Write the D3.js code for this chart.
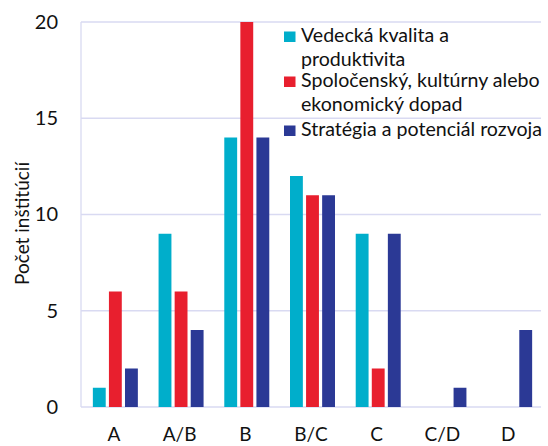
<!DOCTYPE html>
<html>
<head>
<meta charset="utf-8">
<script src="https://cdn.jsdelivr.net/npm/d3@7/dist/d3.min.js"></script>
<style>
  html, body { margin: 0; padding: 0; background: #fff; }
  svg { display: block; font-family: Lato, "Open Sans", sans-serif; }
</style>
</head>
<body>
<svg id="chart" width="548" height="446"></svg>
<script>
// Hodnotenie inštitúcií podľa kritérií
const categories = ["A", "A/B", "B", "B/C", "C", "C/D", "D"];
const seriesNames = [
  "Vedecká kvalita a produktivita",
  "Spoločenský, kultúrny alebo ekonomický dopad",
  "Stratégia a potenciál rozvoja"
];
const vedeckaKvalita = [1, 9, 14, 12, 9, 0, 0];
const spolocenskyDopad = [6, 6, 20, 11, 2, 0, 0];
const strategia = [2, 4, 14, 11, 9, 1, 4];
const yTicks = [0, 5, 10, 15, 20];
const legendLines = [
  ["Vedecká kvalita a", "produktivita"],
  ["Spoločenský, kultúrny alebo", "ekonomický dopad"],
  ["Stratégia a potenciál rozvoja"]
];

const colors = ["#00AECB", "#E81F2E", "#2B3995"];
const series = [vedeckaKvalita, spolocenskyDopad, strategia];

const svg = d3.select("#chart");
const margin = { left: 81, right: 7, top: 22, bottom: 39 };
const W = 548, H = 446;

const x = d3.scaleBand().domain(categories).range([margin.left, W - margin.right]).paddingInner(0).paddingOuter(0);
const x1 = d3.scaleBand().domain(d3.range(series.length)).range([0, 45]).paddingInner(0.2).paddingOuter(0);
const y = d3.scaleLinear().domain([0, 20]).range([H - margin.bottom, margin.top]);

const gridColor = "#D9DAF2";

// horizontal gridlines
svg.append("g").selectAll("line").data(yTicks).join("line")
  .attr("x1", margin.left).attr("x2", W - margin.right)
  .attr("y1", d => y(d)).attr("y2", d => y(d))
  .attr("stroke", gridColor).attr("stroke-width", 1.3);

// left axis line
svg.append("line")
  .attr("x1", margin.left).attr("x2", margin.left)
  .attr("y1", y(20)).attr("y2", y(0))
  .attr("stroke", gridColor).attr("stroke-width", 1.3);

// y tick labels
const yAxis = d3.axisLeft(y).tickValues(yTicks).tickSize(0).tickPadding(23);
const gy = svg.append("g").attr("transform", `translate(${margin.left},0)`).call(yAxis);
gy.select(".domain").remove();
gy.selectAll("text").attr("font-size", 20).attr("fill", "#111").attr("font-family", "Lato, sans-serif");

// x tick labels
const xAxis = d3.axisBottom(x).tickSize(0).tickPadding(21);
const gx = svg.append("g").attr("transform", `translate(0,${y(0)})`).call(xAxis);
gx.select(".domain").remove();
gx.selectAll("text").attr("font-size", 19).attr("fill", "#111").attr("font-family", "Lato, sans-serif");

// bars
const groups = svg.append("g").selectAll("g").data(categories).join("g")
  .attr("transform", c => `translate(${x(c) + (x.bandwidth() - 45) / 2 + 1.5},0)`);
groups.selectAll("rect")
  .data((c, i) => series.map((s, k) => ({ k, v: s[i] })))
  .join("rect")
  .attr("x", d => x1(d.k))
  .attr("width", x1.bandwidth())
  .attr("y", d => y(d.v))
  .attr("height", d => y(0) - y(d.v))
  .attr("fill", d => colors[d.k]);

// y axis title
svg.append("text")
  .attr("transform", `translate(29,${(y(0) + y(20)) / 2 + 9}) rotate(-90)`)
  .attr("text-anchor", "middle")
  .attr("font-size", 19).attr("fill", "#111")
  .text("Počet inštitúcií");

// legend
const legendTop = [42, 87, 136];
const lg = svg.append("g");
legendLines.forEach((lines, i) => {
  lg.append("rect")
    .attr("x", 284).attr("y", legendTop[i] - 10.5)
    .attr("width", 11.5).attr("height", 10.5)
    .attr("fill", colors[i]);
  lines.forEach((t, j) => {
    lg.append("text")
      .attr("x", 301).attr("y", legendTop[i] + j * 24)
      .attr("font-size", 19.6).attr("fill", "#111")
      .text(t);
  });
});
</script>
</body>
</html>
